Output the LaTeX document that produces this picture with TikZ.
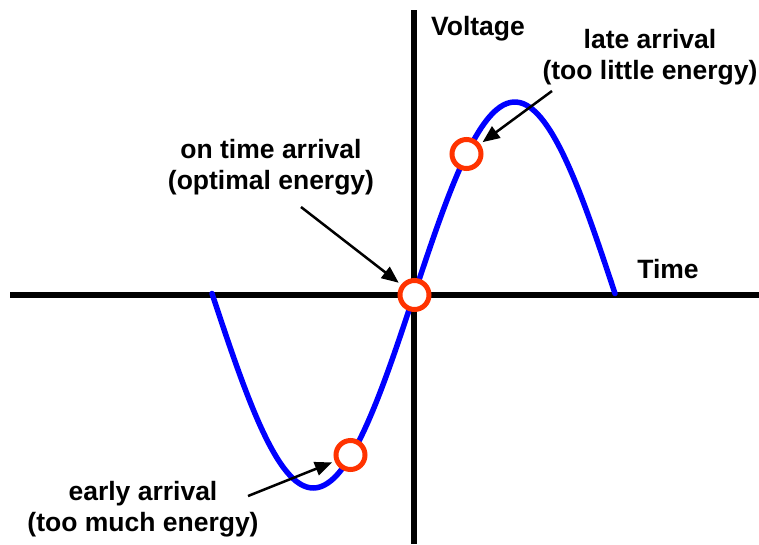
\documentclass[tikz,border=0pt]{standalone}
\usepackage{fontspec}
\setmainfont{Liberation Sans}
\usetikzlibrary{arrows.meta}
\definecolor{wave}{RGB}{0,0,255}
\definecolor{ringred}{RGB}{255,51,0}
\tikzset{
  lbl/.style={font=\fontsize{26.5}{31}\selectfont\bfseries,align=center,inner sep=0pt},
  ring/.style={circle,draw=ringred,line width=5pt,fill=white,minimum size=29pt,inner sep=0pt},
  pointer/.style={line width=2.5pt,-{Triangle[length=17pt,width=14pt]},shorten >=3pt}
}
\begin{document}
\begin{tikzpicture}[x=1pt,y=-1pt]
    \useasboundingbox (0,0) rectangle (759,544);
    % axes
    \draw[line width=6pt] (10,295) -- (759,295);
    \draw[line width=6pt] (414,10) -- (414,544);
    \node[lbl,anchor=base] (volt) at (478,35) {Voltage};
    \node[lbl,anchor=base] (time) at (668,278) {Time};
    % the wave
    \draw[wave,line width=5.5pt,line cap=round]
      plot[domain=212:615,samples=120,smooth] (\x,{295-193*sin(0.8933*(\x-414))});
    % arrival points
    \node[ring] (ontime) at (414.5,295) {};
    \node[ring] (late) at (466.5,154) {};
    \node[ring] (early) at (350.5,455) {};
    % labels (base = last line)
    \node[lbl,anchor=base] (ontimelbl) at (271,189) {on time arrival\\(optimal energy)};
    \node[lbl,anchor=base] (latelbl) at (650,79) {late arrival\\(too little energy)};
    \node[lbl,anchor=base] (earlylbl) at (143,531) {early arrival\\(too much energy)};
    \coordinate (ontimetail) at (301,207);
    \coordinate (latetail) at (552,91);
    \coordinate (earlytail) at (248,496);
    \draw[pointer] (ontimetail) -- (ontime);
    \draw[pointer] (latetail) -- (late);
    \draw[pointer] (earlytail) -- (early);
\end{tikzpicture}
\end{document}
